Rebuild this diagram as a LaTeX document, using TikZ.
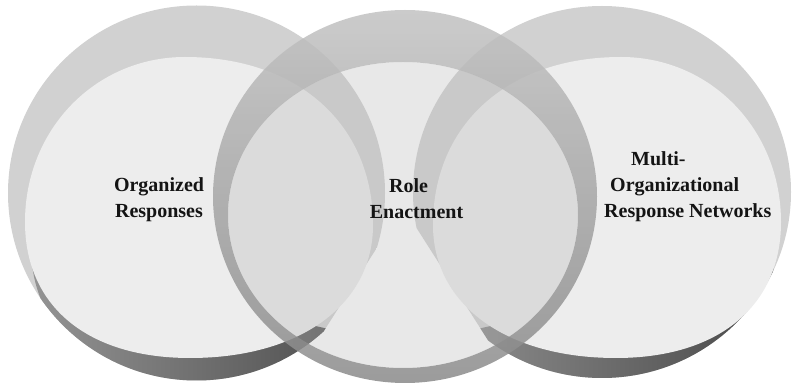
\documentclass[tikz,border=0pt]{standalone}
\usepackage{fontspec}
\setmainfont{Liberation Serif}
\definecolor{rimgray}{HTML}{D1D1D1}
\definecolor{facegray}{HTML}{EDEDED}
\definecolor{midface}{HTML}{B9B9B9}
\definecolor{midrimtop}{HTML}{C2C2C2}
\definecolor{midrimlow}{HTML}{8A8A8A}
\tikzset{
  disclabel/.style={font=\bfseries\fontsize{20}{26}\selectfont, inner sep=0pt, text=black!92},
  sideface/.style={insert path={(25,-222) .. controls (25,-129.6) and (95.4,-57) .. (185,-57)
    .. controls (297.8,-57) and (373,-124.2) .. (373,-225)
    .. controls (373,-304.8) and (299.8,-358) .. (190,-358)
    .. controls (87.7,-358) and (25,-306.3) .. cycle}},
  sideview/.style={insert path={(-10,10) -- (420,10) -- (420,-180) -- (280,-400) -- (-10,-400) -- cycle}},
  sidelow/.style={insert path={(-10,-253) -- (400,-345) -- (400,-400) -- (-10,-400) -- cycle}},
  sidedark/.style={left color=black!42, right color=black!72},
  midrim/.style={even odd rule, shading=axis, top color=midrimtop, middle color=midrimtop, bottom color=midrimlow, fill opacity=0.85},
  midtop/.style={fill=midface, fill opacity=0.33},
}
\begin{document}
\begin{tikzpicture}[x=1pt,y=1pt]
\useasboundingbox (0,0) rectangle (793,-387);
% left disc
\begin{scope}
\clip[sideview];
\fill[rimgray] (196.5,-193) ellipse (188.5 and 187.5);
\clip (196.5,-193) ellipse (188.5 and 187.5);
\clip[sidelow];
\shade[shift={(6,-24)}, sidedark, sideface];
\end{scope}
\fill[facegray, sideface];
% right disc (mirror of the left one)
\begin{scope}[xshift=806, xscale=-1]
\begin{scope}
\clip[sideview];
\fill[rimgray] (204,-192) ellipse (189 and 186);
\clip (204,-192) ellipse (189 and 186);
\clip[sidelow];
\shade[shift={(6,-24)}, sidedark, sideface];
\end{scope}
\fill[facegray, sideface];
\end{scope}
% middle disc
\shade[midrim] (405,-196.5) ellipse (192 and 186.5) (403,-215) ellipse (175 and 153);
\fill[midtop] (403,-215) ellipse (175 and 153);
% labels
\node[disclabel, align=center] (org) at (159,-200) {Organized\\Responses};
\node[disclabel, align=center] (role) at (416.5,-199) {Role\hspace*{16pt}\\Enactment};
\node[disclabel, align=left, anchor=west] (multi) at (604,-187) {\hspace*{27pt}Multi-\\\hspace*{6pt}Organizational\\Response Networks};
\end{tikzpicture}
\end{document}
